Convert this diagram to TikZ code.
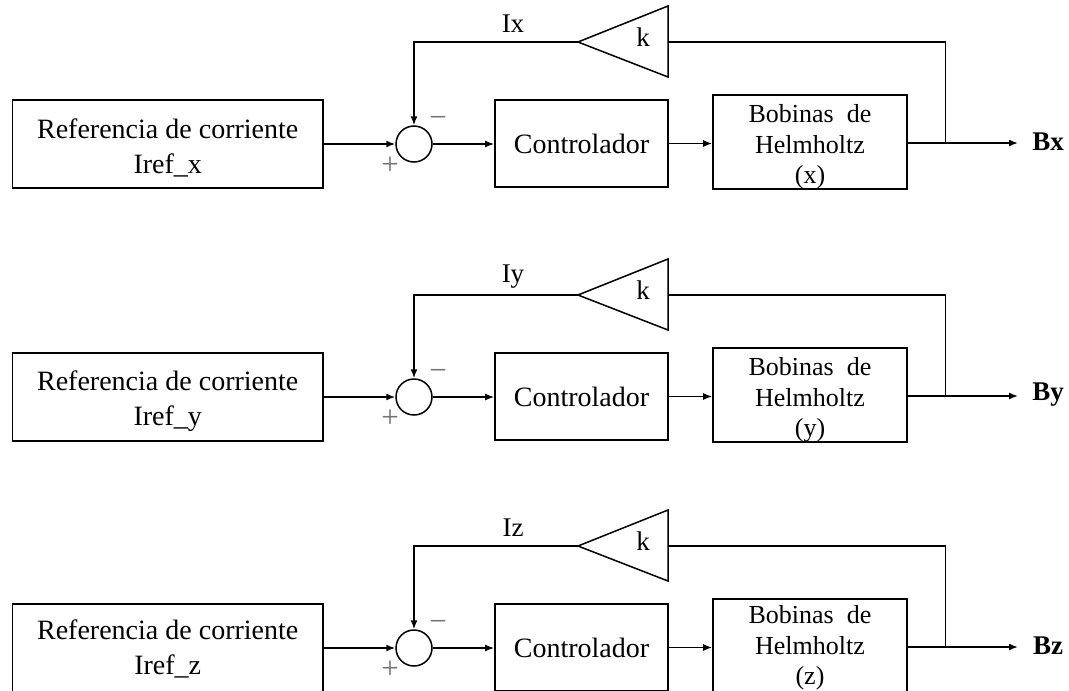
\documentclass[tikz,border=0pt]{standalone}
\usepackage{fontspec}
\setmainfont{Liberation Serif}
\usetikzlibrary{arrows.meta}
\begin{document}
\begin{tikzpicture}[x=1pt,y=-1pt,
  blk/.style={draw, line width=1.7pt, inner sep=0pt},
  txt/.style={inner sep=0pt, align=center},
  conn/.style={line width=1.5pt},
  arr/.style={conn, -{Latex[length=9pt,width=7pt]}},
  sumnode/.style={draw, circle, line width=1.5pt, minimum size=36pt, inner sep=0pt},
  sign/.style={inner sep=0pt, text=black!55, font=\fontsize{31}{34}\selectfont},
  lbl/.style={inner sep=0pt, font=\fontsize{27}{32}\selectfont}]
\useasboundingbox (0,0) rectangle (1069,691);
\clip (0,0) rectangle (1069,691);
\foreach \r/\y/\s/\t in {1/144/x/0,2/397/y/0,3/648/z/-3}{
  % reference block
  \node[blk, minimum width=310.6pt, minimum height=88pt] (ref\r) at (167.7,\y) {};
  \node[txt, font=\fontsize{28}{35}\selectfont] (reft\r) at (167.7,\y+3.7+\t) {Referencia de corriente\\Iref\_\s};
  % summing junction
  \node[sumnode] (sum\r) at (414,\y) {};
  \node[sign] (minus\r) at (438,\y-22) {−};
  \node[sign] (plus\r) at (390,\y+22) {+};
  % controller
  \node[blk, minimum width=173pt, minimum height=87pt, font=\fontsize{28}{35}\selectfont] (ctrl\r) at (581.5,\y-0.5) {Controlador};
  % coils
  \node[blk, minimum width=194pt, minimum height=94pt] (bob\r) at (810,\y-2) {};
  \node[txt, font=\fontsize{26}{30.5}\selectfont] (bobt\r) at (810,\y+3+\t) {Bobinas~~de\\Helmholtz\\(\s)};
  % gain
  \coordinate (kap\r) at (578,\y-102);
  \coordinate (kbm\r) at (668,\y-102);
  \draw[conn, line join=miter] (kap\r) -- (668,\y-138) -- (668,\y-67) -- cycle;
  \node[lbl] (k\r) at (643,\y-107) {k};
  % junction and output
  \coordinate (j\r) at (945.7,\y-1);
  \coordinate (out\r) at (1018,\y-1);
  \node[inner sep=0pt, font=\fontsize{27}{30}\selectfont\bfseries] (B\r) at (1048,\y-2) {B\s};
  % current label
  \node[lbl] (I\r) at (513,\y-120) {I\s};
  % connectors
  \draw[arr] (ref\r.east) -- (sum\r.west);
  \draw[arr] (sum\r.east) -- (sum\r.east -| ctrl\r.west);
  \draw[arr] (ctrl\r.east) -- (ctrl\r.east -| bob\r.west);
  \draw[conn] (bob\r.east |- j\r) -- (j\r);
  \draw[arr] (j\r) -- (out\r);
  \draw[conn] (j\r) -- (j\r |- kbm\r) -- (kbm\r);
  \draw[arr] (kap\r) -- (kap\r -| sum\r.north) -- (sum\r.north);
}
\end{tikzpicture}
\end{document}
